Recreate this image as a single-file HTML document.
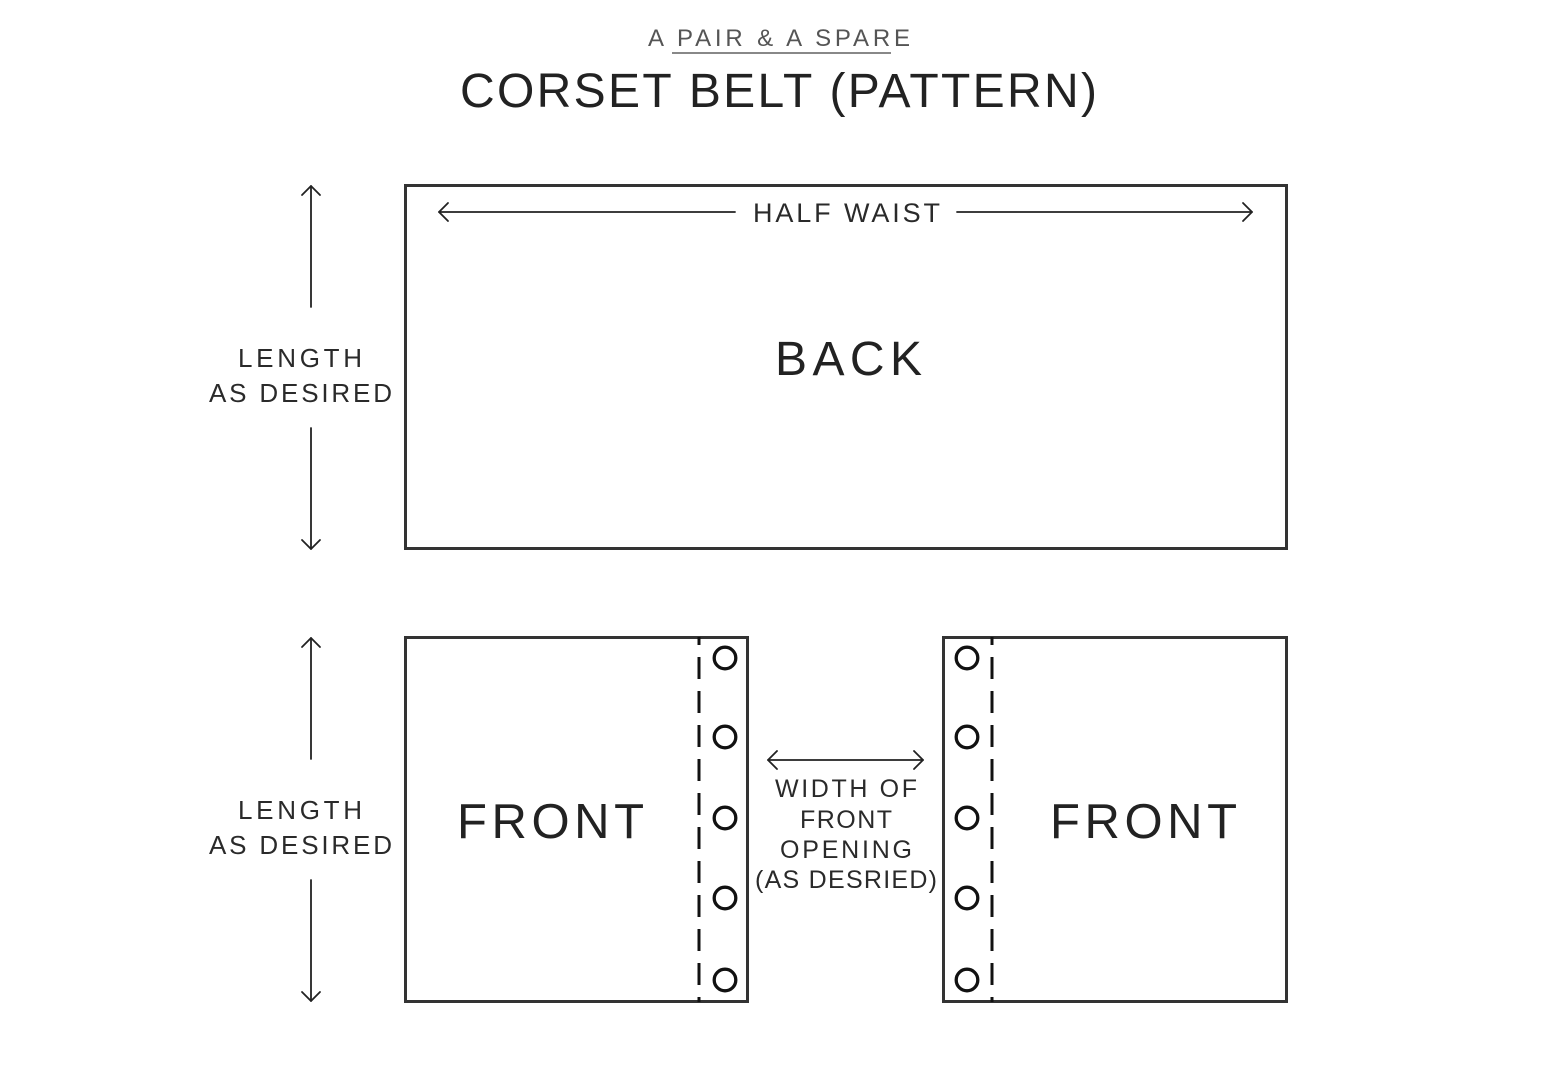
<!DOCTYPE html>
<html>
<head>
<meta charset="utf-8">
<style>
html,body{margin:0;padding:0;background:#fff;}
svg{display:block;}
text{font-family:"Liberation Sans",sans-serif;}
</style>
</head>
<body>
<svg width="1556" height="1084" viewBox="0 0 1556 1084" xmlns="http://www.w3.org/2000/svg">
<rect width="1556" height="1084" fill="#fff"/>

<!-- Header -->
<text x="648" y="46" font-size="24" fill="#555" textLength="262" lengthAdjust="spacing">A PAIR &amp; A SPARE</text>
<line x1="672" y1="53" x2="891" y2="53" stroke="#888" stroke-width="2"/>
<text x="460" y="107" font-size="48" fill="#222" textLength="637" lengthAdjust="spacing">CORSET BELT (PATTERN)</text>

<!-- BACK -->
<rect x="405.5" y="185.5" width="881" height="363" fill="none" stroke="#333" stroke-width="3"/>
<g stroke="#222" stroke-width="1.8" fill="none" stroke-linecap="round" stroke-linejoin="round">
  <line x1="439" y1="212" x2="735" y2="212"/>
  <polyline points="448,203 439,212 448,221"/>
  <line x1="957" y1="212" x2="1252" y2="212"/>
  <polyline points="1243,203 1252,212 1243,221"/>
</g>
<text x="753" y="222" font-size="27" fill="#2a2a2a" textLength="187" lengthAdjust="spacing">HALF WAIST</text>
<text x="775" y="375" font-size="48" fill="#222" textLength="147" lengthAdjust="spacing">BACK</text>

<!-- Back left dimension -->
<g stroke="#222" stroke-width="1.8" fill="none" stroke-linecap="round" stroke-linejoin="round">
  <line x1="311" y1="186" x2="311" y2="307"/>
  <polyline points="302,195 311,186 320,195"/>
  <line x1="311" y1="428" x2="311" y2="549"/>
  <polyline points="302,540 311,549 320,540"/>
</g>
<text x="238" y="367" font-size="26" fill="#2a2a2a" textLength="124" lengthAdjust="spacing">LENGTH</text>
<text x="209" y="402" font-size="26" fill="#2a2a2a" textLength="183" lengthAdjust="spacing">AS DESIRED</text>

<!-- Front left dimension -->
<g stroke="#222" stroke-width="1.8" fill="none" stroke-linecap="round" stroke-linejoin="round">
  <line x1="311" y1="638" x2="311" y2="759"/>
  <polyline points="302,647 311,638 320,647"/>
  <line x1="311" y1="880" x2="311" y2="1001"/>
  <polyline points="302,992 311,1001 320,992"/>
</g>
<text x="238" y="819" font-size="26" fill="#2a2a2a" textLength="124" lengthAdjust="spacing">LENGTH</text>
<text x="209" y="854" font-size="26" fill="#2a2a2a" textLength="183" lengthAdjust="spacing">AS DESIRED</text>

<!-- FRONT left -->
<rect x="405.5" y="637.5" width="342" height="364" fill="none" stroke="#333" stroke-width="3"/>
<line x1="699" y1="637" x2="699" y2="1002" stroke="#111" stroke-width="3" stroke-dasharray="8 12 22 12 22 12 22 12 22 12 22 12 22 12 22 12 22 12 22 12 22 12 22 12"/>
<g fill="none" stroke="#111" stroke-width="3.3">
  <circle cx="725" cy="658" r="10.8"/>
  <circle cx="725" cy="737" r="10.8"/>
  <circle cx="725" cy="818" r="10.8"/>
  <circle cx="725" cy="898" r="10.8"/>
  <circle cx="725" cy="980" r="10.8"/>
</g>
<text x="457" y="838" font-size="49" fill="#222" textLength="187" lengthAdjust="spacing">FRONT</text>

<!-- FRONT right -->
<rect x="943.5" y="637.5" width="343" height="364" fill="none" stroke="#333" stroke-width="3"/>
<line x1="992" y1="637" x2="992" y2="1002" stroke="#111" stroke-width="3" stroke-dasharray="8 12 22 12 22 12 22 12 22 12 22 12 22 12 22 12 22 12 22 12 22 12 22 12"/>
<g fill="none" stroke="#111" stroke-width="3.3">
  <circle cx="967" cy="658" r="10.8"/>
  <circle cx="967" cy="737" r="10.8"/>
  <circle cx="967" cy="818" r="10.8"/>
  <circle cx="967" cy="898" r="10.8"/>
  <circle cx="967" cy="980" r="10.8"/>
</g>
<text x="1050" y="838" font-size="49" fill="#222" textLength="187" lengthAdjust="spacing">FRONT</text>

<!-- Middle opening dimension -->
<g stroke="#222" stroke-width="1.8" fill="none" stroke-linecap="round" stroke-linejoin="round">
  <line x1="768" y1="760" x2="923" y2="760"/>
  <polyline points="777,751 768,760 777,769"/>
  <polyline points="914,751 923,760 914,769"/>
</g>
<text x="775" y="797" font-size="25" fill="#2a2a2a" textLength="142" lengthAdjust="spacing">WIDTH OF</text>
<text x="800" y="828" font-size="25" fill="#2a2a2a" textLength="92" lengthAdjust="spacing">FRONT</text>
<text x="780" y="858" font-size="25" fill="#2a2a2a" textLength="132" lengthAdjust="spacing">OPENING</text>
<text x="755" y="888" font-size="25" fill="#2a2a2a" textLength="182" lengthAdjust="spacing">(AS DESRIED)</text>
</svg>
</body>
</html>
